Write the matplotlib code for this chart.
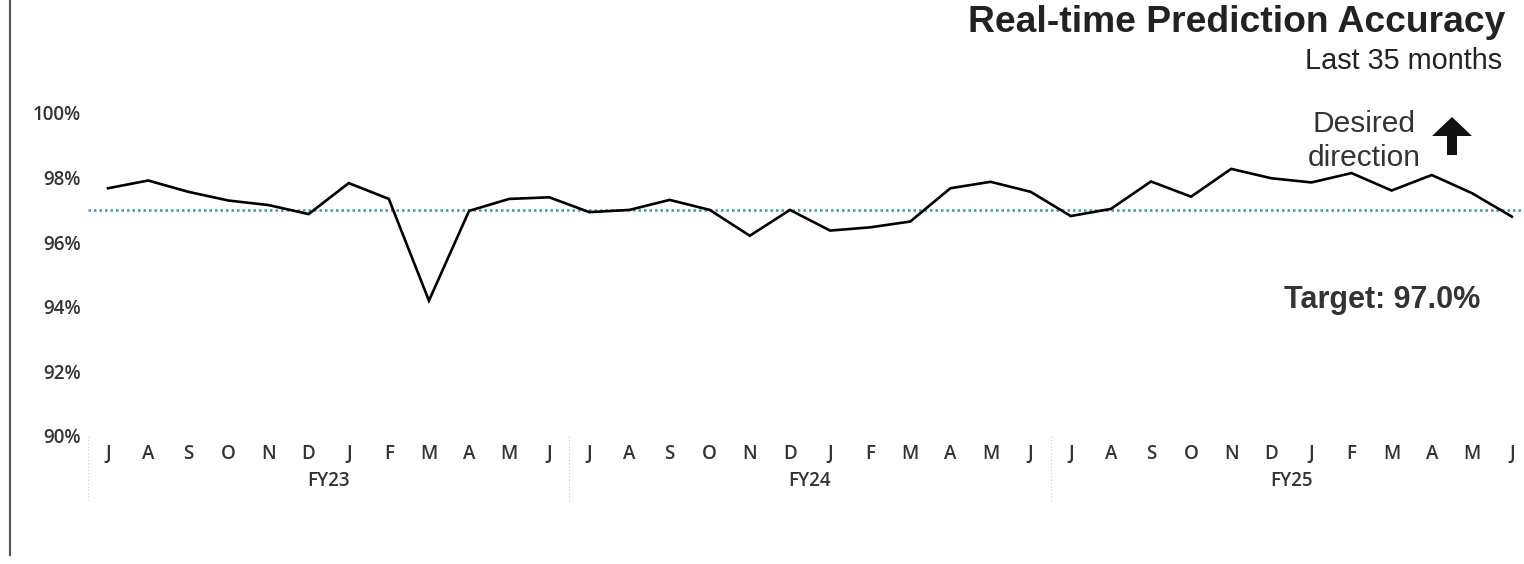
import matplotlib.pyplot as plt
from matplotlib.lines import Line2D
from matplotlib.patches import Polygon

months = ["J", "A", "S", "O", "N", "D", "J", "F", "M", "A", "M", "J"] * 3
fiscal_years = ["FY23", "FY24", "FY25"]
accuracy = [97.67, 97.91, 97.56, 97.29, 97.15, 96.87, 97.83, 97.34, 94.19, 96.97, 97.34, 97.39,
            96.93, 97.00, 97.31, 97.00, 96.20, 97.00, 96.36, 96.46, 96.64, 97.67, 97.87, 97.56,
            96.81, 97.03, 97.88, 97.41, 98.27, 97.98, 97.85, 98.14, 97.60, 98.08, 97.52, 96.79]
target = 97.0
yticks = [90, 92, 94, 96, 98, 100]

W, H = 1524, 564
fig = plt.figure(figsize=(W / 100, H / 100), dpi=100)
ax = fig.add_axes([88 / W, 1 - 436 / H, 1 - 88 / W, (436 - 113) / H])

x = list(range(len(accuracy)))
ax.plot(x, accuracy, color="black", lw=1.9, solid_joinstyle="miter", zorder=3)
ax.axhline(target, color="#2E9CB3", lw=1.8, ls=(0, (1, 1.2)), zorder=2)

ax.set_xlim(-0.5, 35.3)
ax.set_ylim(90, 100)
ax.set_yticks(yticks)
ax.set_yticklabels([f"{v}%" for v in yticks], fontsize=13.5, family="Open Sans",
                   fontweight="semibold", color="#333333")
ax.set_xticks(x)
ax.set_xticklabels(months, fontsize=13.5, family="Open Sans", fontweight="semibold", color="#333333")
ax.tick_params(axis="both", length=0)
ax.tick_params(axis="x", pad=6)
ax.tick_params(axis="y", pad=5)
for s in ax.spines.values():
    s.set_visible(False)

# fiscal year labels and separators
for i, fy in enumerate(fiscal_years):
    ax.text(i * 12 + 5.5, -0.14, fy, transform=ax.get_xaxis_transform(), ha="center", va="center",
            fontsize=13.5, family="Open Sans", fontweight="semibold", color="#333333")
for b in [-0.5, 11.5, 23.5]:
    ax.plot([b, b], [0, -0.2], transform=ax.get_xaxis_transform(), clip_on=False,
            color="#cccccc", lw=0.8, ls=(0, (1, 2)))

# left border line
fig.add_artist(Line2D([10 / W, 10 / W], [1, 1 - 555 / H], color="#555555", lw=1.5))

fig.text(1505 / W, 1 - 23 / H, "Real-time Prediction Accuracy", ha="right", va="center",
         fontsize=26.8, family="Liberation Sans", fontweight="bold", color="#222222")
fig.text(1502 / W, 1 - 61 / H, "Last 35 months", ha="right", va="center",
         fontsize=20.8, family="Liberation Sans", color="#222222")
fig.text(1364 / W, 1 - 141 / H, "Desired\ndirection", ha="center", va="center",
         fontsize=21.5, family="Liberation Sans", color="#333333", linespacing=1.25)
fig.text(1480 / W, 1 - 300 / H, "Target: 97.0%", ha="right", va="center",
         fontsize=22, family="Liberation Sans", fontweight="bold", color="#333333")

# up arrow (pixel outline -> figure fraction)
arrow_px = [(1452, 117), (1472, 136), (1457, 136), (1457, 155), (1447, 155), (1447, 136), (1432, 136)]
fig.add_artist(Polygon([(px / W, 1 - py / H) for px, py in arrow_px], closed=True,
                       transform=fig.transFigure, color="#111111", lw=0))

fig.savefig("out.png", dpi=100)
